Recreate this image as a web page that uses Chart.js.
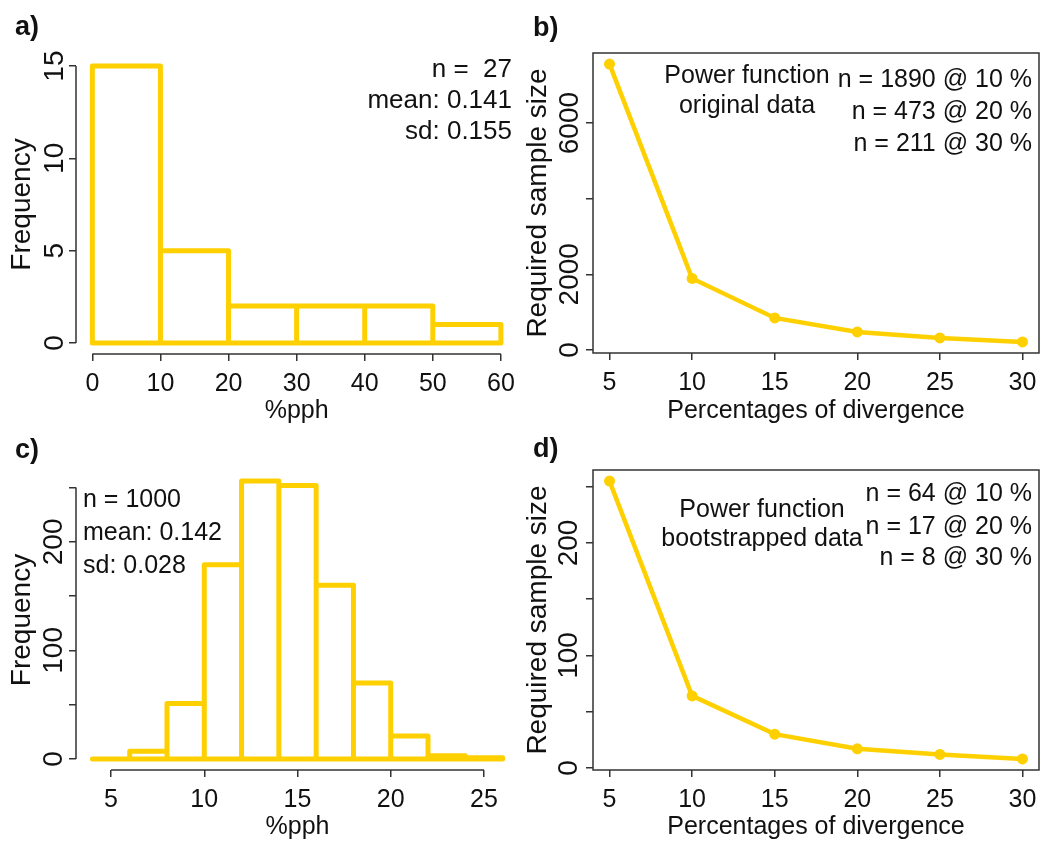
<!DOCTYPE html>
<html>
<head>
<meta charset="utf-8">
<script src="https://cdn.jsdelivr.net/npm/chart.js@4.4.1/dist/chart.umd.min.js"></script>
<style>
  body { margin: 0; background: #fff; }
  #wrap { position: relative; width: 1047px; height: 843px; }
  canvas { position: absolute; }
</style>
</head>
<body>
<div id="wrap">
  <canvas id="cA" width="523" height="430" style="left:0;top:0"></canvas>
  <canvas id="cB" width="524" height="430" style="left:523px;top:0"></canvas>
  <canvas id="cC" width="523" height="422" style="left:0;top:421px"></canvas>
  <canvas id="cD" width="524" height="422" style="left:523px;top:421px"></canvas>
</div>
<script>
// a) histogram of %pph, original data
var binsA = [0, 10, 20, 30, 40, 50, 60];
var countsA = [15, 5, 2, 2, 2, 1];
var xTicksA = [0, 10, 20, 30, 40, 50, 60];
var yTicksA = [0, 5, 10, 15];
var yLabelsA = ['0', '5', '10', '15'];

// b) required sample size, original data
var pctB = [5, 10, 15, 20, 25, 30];
var sizeB = [7560, 1890, 845, 473, 315, 211];
var yTicksB = [0, 2000, 4000, 6000];
var yLabelsB = ['0', '2000', '', '6000'];

// c) histogram of %pph, bootstrapped
var binsC = [4, 6, 8, 10, 12, 14, 16, 18, 20, 22, 24, 26];
var countsC = [0, 7, 51, 179, 256, 252, 160, 70, 21, 3, 1];
var xTicksC = [5, 10, 15, 20, 25];
var yTicksC = [0, 50, 100, 150, 200, 250];
var yLabelsC = ['0', '', '100', '', '200', ''];

// d) required sample size, bootstrapped
var pctD = [5, 10, 15, 20, 25, 30];
var sizeD = [255, 64, 30, 17, 12, 8];
var yTicksD = [0, 50, 100, 150, 200, 250];
var yLabelsD = ['0', '', '100', '', '200', ''];

var xTicksPct = [5, 10, 15, 20, 25, 30];

var YEL = '#FFD000';
var INK = '#111';
var AX = '#333';
var FAM = "'Liberation Sans', Arial, sans-serif";

Chart.defaults.font.family = FAM;
Chart.defaults.color = INK;

// R style range: data range stretched by 4% on each side
function rRange(lo, hi) {
  var d = (hi - lo) * 0.04;
  return [lo - d, hi + d];
}

// outline of all histogram rectangles as one path
function histPath(edges, counts) {
  var pts = [{x: edges[0], y: 0}];
  for (var i = 0; i < counts.length; i++) {
    pts.push({x: edges[i], y: counts[i]});
    pts.push({x: edges[i + 1], y: counts[i]});
    pts.push({x: edges[i + 1], y: 0});
  }
  pts.push({x: edges[0], y: 0});
  return pts;
}

function pairs(xs, ys) {
  return xs.map(function (x, i) { return {x: x, y: ys[i]}; });
}

var rAxes = {
  id: 'rAxes',
  afterDraw: function (chart, args, opts) {
    var ctx = chart.ctx, a = chart.chartArea;
    var xs = chart.scales.x, ys = chart.scales.y;
    ctx.save();
    ctx.strokeStyle = AX;
    ctx.lineWidth = 1.5;
    ctx.beginPath();
    if (opts.box) {
      ctx.rect(a.left, a.top, a.right - a.left, a.bottom - a.top);
    } else {
      var xt = xs.ticks, yt = ys.ticks;
      ctx.moveTo(xs.getPixelForValue(xt[0].value), a.bottom);
      ctx.lineTo(xs.getPixelForValue(xt[xt.length - 1].value), a.bottom);
      ctx.moveTo(a.left, ys.getPixelForValue(yt[0].value));
      ctx.lineTo(a.left, ys.getPixelForValue(yt[yt.length - 1].value));
    }
    ctx.stroke();
    (opts.notes || []).forEach(function (n) {
      ctx.font = (n.bold ? 'bold ' : '') + (n.size || 25) + 'px ' + FAM;
      ctx.fillStyle = INK;
      ctx.textAlign = n.align || 'left';
      ctx.textBaseline = 'alphabetic';
      ctx.fillText(n.t, n.x, n.y);
    });
    ctx.restore();
  }
};

function xAxis(o) {
  return {
    type: 'linear', min: o.range[0], max: o.range[1],
    afterBuildTicks: function (s) { s.ticks = o.ticks.map(function (v) { return {value: v}; }); },
    afterFit: function (s) { s.height = o.h; },
    grid: {drawOnChartArea: false, drawTicks: true, tickLength: 7, color: AX, lineWidth: 1.5},
    border: {display: false},
    ticks: {font: {size: 25}, color: INK, padding: 8, maxRotation: 0, autoSkip: false},
    title: {display: true, text: o.title, font: {size: 25}, color: INK, padding: {top: 0, bottom: o.tpad}}
  };
}

function yAxis(o) {
  return {
    type: 'linear', min: o.range[0], max: o.range[1],
    afterBuildTicks: function (s) { s.ticks = o.ticks.map(function (v) { return {value: v}; }); },
    afterFit: function (s) { s.width = o.w; },
    grid: {drawOnChartArea: false, drawTicks: true, tickLength: 7, color: AX, lineWidth: 1.5},
    border: {display: false},
    ticks: {
      font: {size: 28}, color: INK, padding: o.lpad, autoSkip: false,
      minRotation: 90, maxRotation: 90, crossAlign: 'center',
      callback: function (v, i) { return o.labels[i]; }
    },
    title: {display: true, text: o.title, font: {size: 28}, color: INK, padding: {top: o.tpad, bottom: 0}}
  };
}

function makeChart(id, datasets, scales, pad, axOpts) {
  return new Chart(document.getElementById(id), {
    type: 'scatter',
    data: {datasets: datasets},
    options: {
      responsive: false,
      animation: false,
      layout: {padding: {top: pad.top, right: pad.right, left: 0, bottom: 0}},
      scales: scales,
      plugins: {legend: {display: false}, tooltip: {enabled: false}, rAxes: axOpts}
    },
    plugins: [rAxes]
  });
}

function histSet(edges, counts) {
  return {
    data: histPath(edges, counts), showLine: true, pointRadius: 0,
    borderColor: YEL, borderWidth: 5, borderJoinStyle: 'round', borderCapStyle: 'round'
  };
}

function curveSet(xs, ys) {
  return {
    data: pairs(xs, ys), showLine: true, borderColor: YEL, borderWidth: 4.5,
    pointRadius: 5.5, pointBackgroundColor: YEL, pointBorderWidth: 0
  };
}

// a)
makeChart('cA', [histSet(binsA, countsA)], {
  x: xAxis({range: rRange(0, 60), ticks: xTicksA, h: 76, title: '%pph', tpad: 4}),
  y: yAxis({range: rRange(0, 15), ticks: yTicksA, labels: yLabelsA, w: 76, lpad: -2, title: 'Frequency', tpad: 5})
}, {top: 55, right: 5}, {
  notes: [
    {t: 'a)', x: 15, y: 35, bold: true, size: 27},
    {t: 'n =  27', x: 512, y: 77, align: 'right', size: 26},
    {t: 'mean: 0.141', x: 512, y: 108, align: 'right', size: 26},
    {t: 'sd: 0.155', x: 512, y: 139, align: 'right', size: 26}
  ]
});

// b)
makeChart('cB', [curveSet(pctB, sizeB)], {
  x: xAxis({range: rRange(5, 30), ticks: xTicksPct, h: 77, title: 'Percentages of divergence', tpad: 4}),
  y: yAxis({range: rRange(Math.min.apply(null, sizeB), Math.max.apply(null, sizeB)), ticks: yTicksB, labels: yLabelsB, w: 70, lpad: -15, title: 'Required sample size', tpad: -2})
}, {top: 53, right: 8}, {
  box: true,
  notes: [
    {t: 'b)', x: 10, y: 36, bold: true, size: 27},
    {t: 'Power function', x: 224, y: 83, align: 'center'},
    {t: 'original data', x: 224, y: 113, align: 'center'},
    {t: 'n = 1890 @ 10 %', x: 509, y: 87, align: 'right'},
    {t: 'n = 473 @ 20 %', x: 509, y: 119, align: 'right'},
    {t: 'n = 211 @ 30 %', x: 509, y: 151, align: 'right'}
  ]
});

// c)
makeChart('cC', [histSet(binsC, countsC)], {
  x: xAxis({range: rRange(4, 26), ticks: xTicksC, h: 73, title: '%pph', tpad: 1}),
  y: yAxis({range: rRange(0, Math.max.apply(null, countsC)), ticks: yTicksC, labels: yLabelsC, w: 76, lpad: -9, title: 'Frequency', tpad: 5})
}, {top: 49, right: 4}, {
  notes: [
    {t: 'c)', x: 15, y: 37, bold: true, size: 27},
    {t: 'n = 1000', x: 83, y: 86},
    {t: 'mean: 0.142', x: 83, y: 119},
    {t: 'sd: 0.028', x: 83, y: 152}
  ]
});

// d)
makeChart('cD', [curveSet(pctD, sizeD)], {
  x: xAxis({range: rRange(5, 30), ticks: xTicksPct, h: 73, title: 'Percentages of divergence', tpad: 1}),
  y: yAxis({range: rRange(Math.min.apply(null, sizeD), Math.max.apply(null, sizeD)), ticks: yTicksD, labels: yLabelsD, w: 70, lpad: -7, title: 'Required sample size', tpad: -2})
}, {top: 49, right: 8}, {
  box: true,
  notes: [
    {t: 'd)', x: 10, y: 36, bold: true, size: 27},
    {t: 'Power function', x: 239, y: 96, align: 'center'},
    {t: 'bootstrapped data', x: 239, y: 125, align: 'center'},
    {t: 'n = 64 @ 10 %', x: 509, y: 80, align: 'right'},
    {t: 'n = 17 @ 20 %', x: 509, y: 113, align: 'right'},
    {t: 'n = 8 @ 30 %', x: 509, y: 144, align: 'right'}
  ]
});
</script>
</body>
</html>
